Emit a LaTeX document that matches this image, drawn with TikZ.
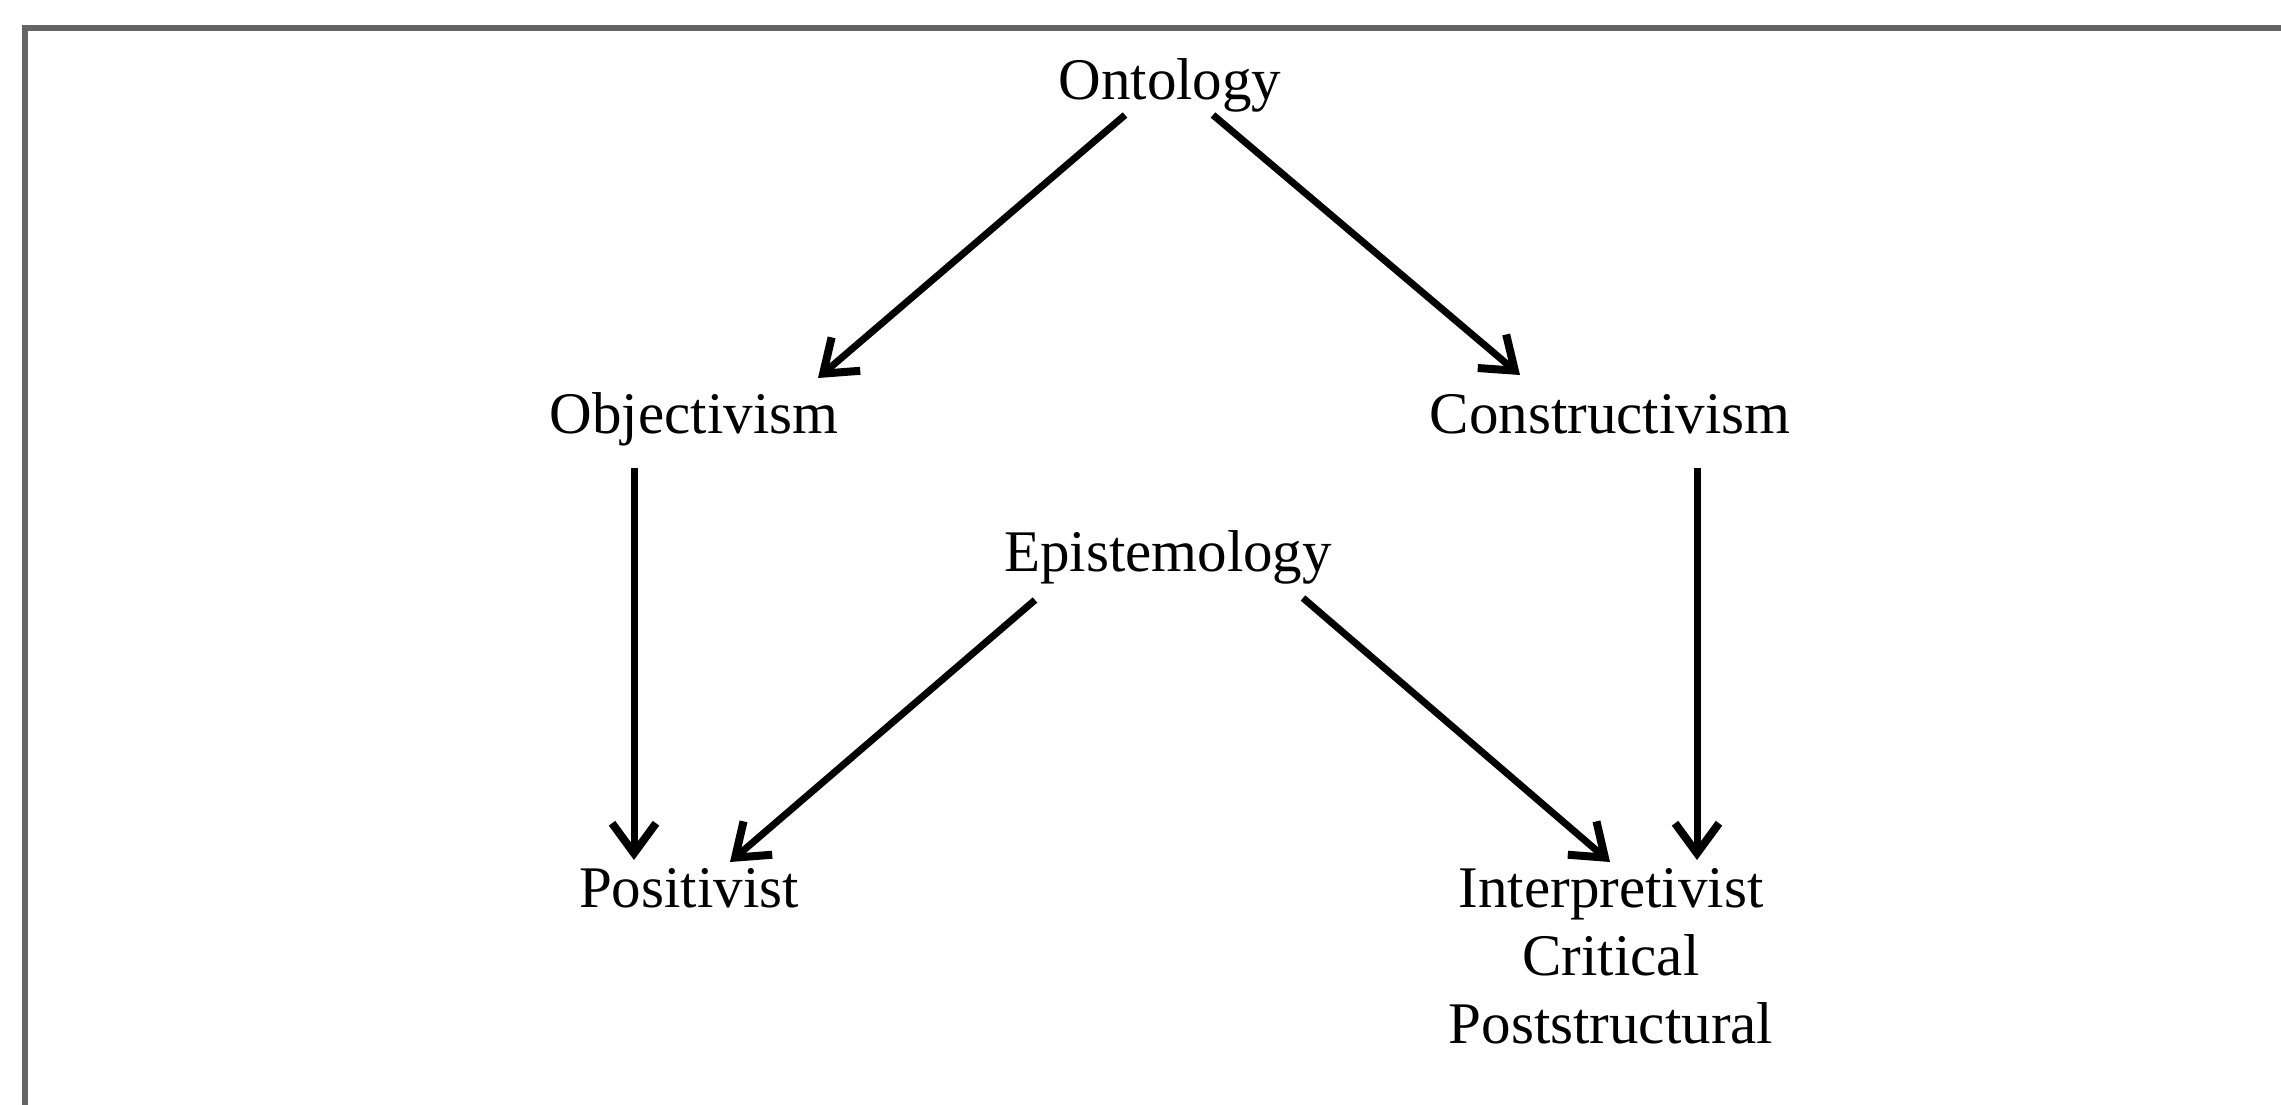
\documentclass[tikz,border=0pt]{standalone}
\usepackage{fontspec}
\setmainfont{Liberation Serif}
\usepackage{tikz}
\usetikzlibrary{arrows.meta}
\definecolor{framegray}{RGB}{100,100,100}

\begin{document}
\begin{tikzpicture}[
    x=1pt, y=-1pt,
    term/.style={anchor=base, inner sep=0pt, align=center, font=\fontsize{59}{68}\selectfont},
    arrow/.style={-{Straight Barb[length=30pt, width=44pt, line width=8pt]}, line width=7pt},
    frame/.style={framegray, line width=6pt}
]
\useasboundingbox (0,0) rectangle (2281,1105);
\draw[frame] (25,1105) -- (25,28) -- (2281,28);
\node[term] (onto) at (1170,100) {Ontology};
\node[term] (obj) at (694,433) {Objectivism};
\node[term] (cons) at (1610,433) {Constructivism};
\node[term] (epis) at (1168,571) {Epistemology};
\node[term] (pos) at (689,907) {Positivist};
% base of a multi-line node sits on its last line
\node[term] (interp) at (1611,1043) {Interpretivist\\Critical\\Poststructural};
\draw[arrow] ([shift={(-45,15)}]onto.base) -- ([shift={(124,-55)}]obj.base);
\draw[arrow] ([shift={(43,15)}]onto.base) -- ([shift={(-90,-58)}]cons.base);
\draw[arrow] ([shift={(-60,35)}]obj.base) -- ([shift={(-55,-47)}]pos.base);
\draw[arrow] ([shift={(87,35)}]cons.base) -- ([shift={(86,-183)}]interp.base);
\draw[arrow] ([shift={(-133,29)}]epis.base) -- ([shift={(41,-45)}]pos.base);
\draw[arrow] ([shift={(135,27)}]epis.base) -- ([shift={(-1,-181)}]interp.base);
\end{tikzpicture}
\end{document}
